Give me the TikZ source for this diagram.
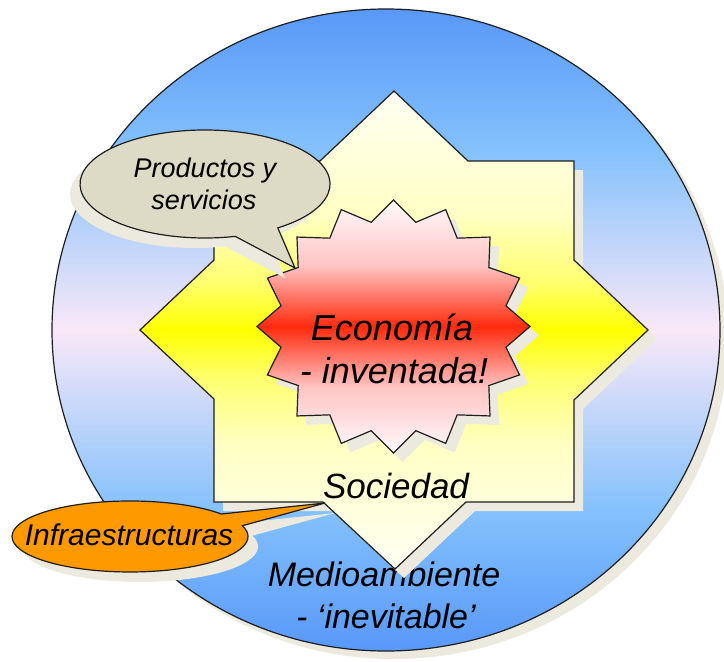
\documentclass[tikz,border=0pt]{standalone}
\usepackage{fontspec}
\setmainfont{Liberation Sans}
\definecolor{envblue}{RGB}{88,152,248}
\definecolor{envlight}{RGB}{132,193,252}
\definecolor{envpink}{RGB}{249,232,248}
\definecolor{socpale}{RGB}{255,255,244}
\definecolor{soclight}{RGB}{255,255,196}
\definecolor{socmid}{RGB}{255,255,110}
\definecolor{socyellow}{RGB}{255,255,0}
\definecolor{ecopale}{RGB}{255,250,252}
\definecolor{ecolight}{RGB}{255,196,196}
\definecolor{ecored}{RGB}{255,42,12}
\definecolor{shadowc}{RGB}{236,233,222}
\definecolor{prodfill}{RGB}{221,218,198}
\definecolor{infrafill}{RGB}{255,153,0}
\definecolor{outline}{RGB}{30,30,30}
\pgfdeclareverticalshading{envshade}{100bp}{color(0bp)=(envblue); color(25bp)=(envblue); color(36bp)=(envlight); color(50bp)=(envpink); color(64bp)=(envlight); color(75bp)=(envblue); color(100bp)=(envblue)}
\pgfdeclareverticalshading{socshade}{100bp}{color(0bp)=(socpale); color(25bp)=(socpale); color(38bp)=(soclight); color(45bp)=(socmid); color(50bp)=(socyellow); color(55bp)=(socmid); color(62bp)=(soclight); color(75bp)=(socpale); color(100bp)=(socpale)}
\pgfdeclareverticalshading{ecoshade}{100bp}{color(0bp)=(ecopale); color(25bp)=(ecopale); color(38bp)=(ecolight); color(50bp)=(ecored); color(62bp)=(ecolight); color(75bp)=(ecopale); color(100bp)=(ecopale)}
\newcommand{\starpath}{(394,-91) -- (468,-161) -- (574,-161) -- (574,-260) -- (648,-330) -- (574,-400) -- (574,-502) -- (466,-502) -- (395,-569) -- (323,-502) -- (214,-502) -- (214,-399) -- (140,-330) -- (214,-260) -- (214,-161) -- (320,-161) -- cycle}
\newcommand{\burstpath}{(393.5,-200) \foreach \j [evaluate=\j as \rr using {1-0.16*mod(\j,2)}, evaluate=\j as \aa using {90+11.25*\j}] in {1,...,31} { -- ({393.5+136.5*\rr*cos(\aa)},{-326.5+126.5*\rr*sin(\aa)}) } -- cycle}
\newcommand{\prodpath}{(277.8,-227.9) arc[start angle=-54.4, end angle=284, x radius=125, y radius=54] -- (295,-268) -- cycle}
\newcommand{\infrapath}{(221.3,-514) arc[start angle=39.3, end angle=377.7, x radius=118, y radius=35.5] -- (325,-503) -- cycle}
\tikzset{
  shapeline/.style={draw=outline, line width=1.2pt, line join=miter},
  lbl/.style={inner sep=0pt, anchor=base, font=\itshape},
}
\begin{document}
\begin{tikzpicture}[x=1pt,y=1pt]
\fill[white] (0,0) rectangle (724,-662);
\useasboundingbox (0,0) rectangle (724,-662);
% environment circle
\fill[shadowc] (394,-338) ellipse[x radius=334, y radius=321];
\shadedraw[shading=envshade, shapeline] (386,-330) ellipse[x radius=334, y radius=321];
\node[lbl, font=\itshape\fontsize{34}{40}\selectfont] (medio1) at (384,-586) {Medioambiente};
\node[lbl, font=\itshape\fontsize{34}{40}\selectfont] (medio2) at (386,-628) {- ‘inevitable’};
% society star
\fill[shadowc, shift={(9,-9)}] \starpath;
\shadedraw[shading=socshade, shapeline] \starpath;
\node[lbl, font=\itshape\fontsize{35}{40}\selectfont] (soc) at (396,-498) {Sociedad};
% economy burst
\fill[shadowc, shift={(9,-9)}] \burstpath;
\shadedraw[shading=ecoshade, shapeline] \burstpath;
\node[lbl, font=\itshape\fontsize{36}{40}\selectfont] (eco1) at (392,-340) {Economía};
\node[lbl, font=\itshape\fontsize{36}{40}\selectfont] (eco2) at (394,-383) {- inventada!};
% callouts
\fill[shadowc, shift={(-10,-10)}] \prodpath;
\filldraw[fill=prodfill, shapeline] \prodpath;
\node[lbl, font=\itshape\fontsize{27}{32}\selectfont] (prod1) at (205,-177) {Productos y};
\node[lbl, font=\itshape\fontsize{27}{32}\selectfont] (prod2) at (204,-209) {servicios};
\fill[shadowc, shift={(10,-10)}] \infrapath;
\filldraw[fill=infrafill, shapeline] \infrapath;
\node[lbl, font=\itshape\fontsize{30}{36}\selectfont] (infra) at (129,-545) {Infraestructuras};
\end{tikzpicture}
\end{document}
